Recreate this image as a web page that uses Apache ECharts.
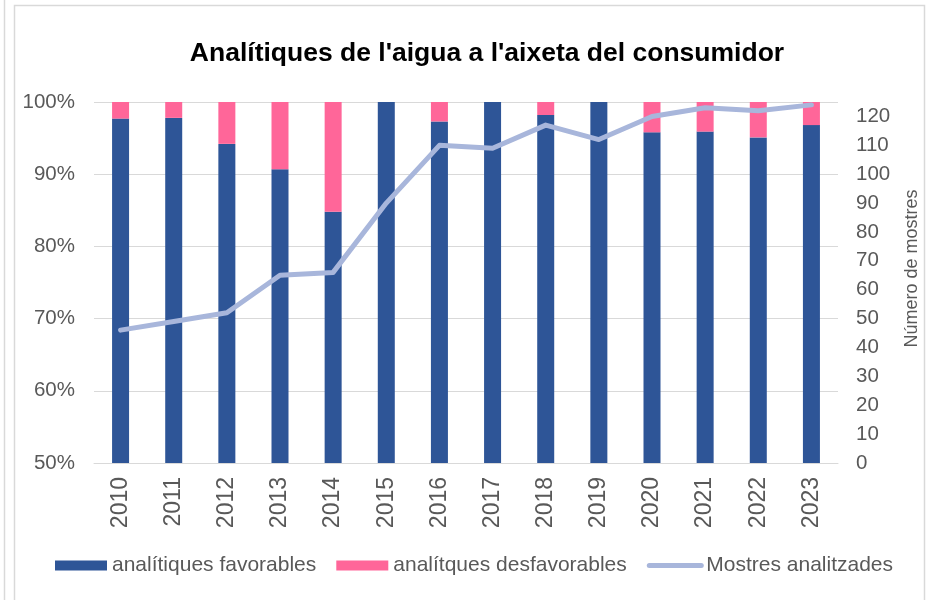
<!DOCTYPE html>
<html>
<head>
<meta charset="utf-8">
<script src="https://cdn.jsdelivr.net/npm/echarts@6/dist/echarts.min.js"></script>
<style>html,body{margin:0;padding:0;background:#fff;}#c{width:929px;height:600px;}</style>
</head>
<body>
<div id="c"></div>
<script>
var years = ['2010','2011','2012','2013','2014','2015','2016','2017','2018','2019','2020','2021','2022','2023'];
var favorables = [97.7, 97.8, 94.2, 90.7, 84.8, 100, 97.3, 100, 98.2, 100, 95.8, 95.9, 95.1, 96.8];
var desfavorables = [2.3, 2.2, 5.8, 9.3, 15.2, 0, 2.7, 0, 1.8, 0, 4.2, 4.1, 4.9, 3.2];
var mostres = [46, 49, 52, 65, 66, 90, 110, 109, 117, 112, 120, 123, 122, 124];
var leftTicks = {min: 50, max: 100, interval: 10};
var rightTicks = {min: 0, max: 125, interval: 10};

var FONT = '"Liberation Sans", Arial, sans-serif';
var TXT = '#595959';
var chart = echarts.init(document.getElementById('c'), null, {renderer: 'canvas'});
chart.setOption({
  animation: false,
  backgroundColor: '#ffffff',
  graphic: [
    {type: 'line', shape: {x1: 4.5, y1: 0, x2: 4.5, y2: 600}, style: {stroke: '#d9d9d9', lineWidth: 1.5}},
    {type: 'rect', shape: {x: 14.5, y: 5.5, width: 910, height: 610}, style: {fill: 'none', stroke: '#d9d9d9', lineWidth: 1.5}}
  ],
  title: {
    text: "Analítiques de l'aigua a l'aixeta del consumidor",
    left: 487, top: 40, textAlign: 'center', padding: 0,
    textStyle: {fontFamily: FONT, fontSize: 26.5, fontWeight: 'bold', color: '#000'}
  },
  legend: {
    left: 55, top: 555, padding: 0, itemWidth: 52, itemHeight: 10, itemGap: 20,
    textStyle: {fontFamily: FONT, fontSize: 21, color: TXT},
    data: [
      {name: 'analítiques favorables', icon: 'rect'},
      {name: 'analítques desfavorables', icon: 'rect'},
      {name: 'Mostres analitzades', itemStyle: {opacity: 0},
       lineStyle: {width: 5, color: '#A8B6DB', cap: 'round'}}
    ]
  },
  grid: {left: 94, right: 79, top: 102, bottom: 137},
  xAxis: {
    type: 'category', data: years,
    axisLine: {show: true, lineStyle: {color: '#d9d9d9', width: 1}},
    axisTick: {show: false},
    axisLabel: {rotate: 90, margin: 14, fontFamily: FONT, fontSize: 23, color: TXT}
  },
  yAxis: [
    {
      type: 'value', min: leftTicks.min, max: leftTicks.max, interval: leftTicks.interval,
      axisLine: {show: false}, axisTick: {show: false},
      splitLine: {lineStyle: {color: '#d9d9d9', width: 1}},
      axisLabel: {margin: 19, fontFamily: FONT, fontSize: 20.5, color: TXT, formatter: '{value}%'}
    },
    {
      type: 'value', min: rightTicks.min, max: rightTicks.max, interval: rightTicks.interval,
      position: 'right',
      name: 'Número de mostres', nameLocation: 'middle', nameGap: 65, nameRotate: 90,
      nameTextStyle: {fontFamily: FONT, fontSize: 18, color: TXT, padding: [0, 0, 0, 28]},
      axisLine: {show: false}, axisTick: {show: false}, splitLine: {show: false},
      axisLabel: {margin: 18, fontFamily: FONT, fontSize: 20.5, color: TXT, showMaxLabel: false}
    }
  ],
  series: [
    {name: 'analítiques favorables', type: 'bar', stack: 'pct', data: favorables, barWidth: 17,
     itemStyle: {color: '#2E5597'}},
    {name: 'analítques desfavorables', type: 'bar', stack: 'pct', data: desfavorables, barWidth: 17,
     itemStyle: {color: '#FF6699'}},
    {name: 'Mostres analitzades', type: 'line', yAxisIndex: 1, data: mostres,
     symbol: 'none', showSymbol: false,
     lineStyle: {color: '#A8B6DB', width: 5, cap: 'round', join: 'round'},
     itemStyle: {color: '#A8B6DB'}}
  ]
});
</script>
</body>
</html>
